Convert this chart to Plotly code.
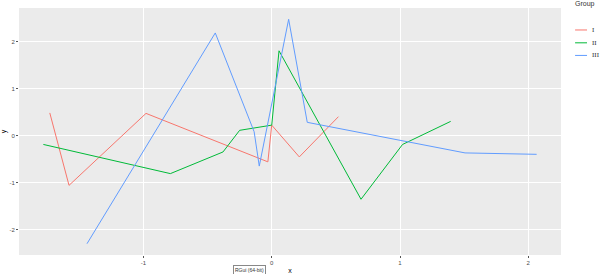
import plotly.graph_objects as go

groups = ["I", "II", "III"]
colors = ["#F8766D", "#00BA38", "#619CFF"]

x_I = [-1.73, -1.58, -0.98, -0.03, 0.0, 0.215, 0.52]
y_I = [0.48, -1.06, 0.47, -0.56, 0.22, -0.455, 0.40]

x_II = [-1.78, -0.79, -0.38, -0.25, 0.0, 0.057, 0.696, 1.02, 1.395]
y_II = [-0.19, -0.81, -0.35, 0.11, 0.22, 1.80, -1.355, -0.19, 0.30]

x_III = [-1.44, -0.44, -0.137, -0.097, 0.132, 0.277, 1.507, 2.065]
y_III = [-2.30, 2.18, 0.08, -0.65, 2.47, 0.28, -0.37, -0.40]

xs = [x_I, x_II, x_III]
ys = [y_I, y_II, y_III]

x_ticks = [-1, 0, 1, 2]
y_ticks = [-2, -1, 0, 1, 2]

fig = go.Figure()
for g, c, xv, yv in zip(groups, colors, xs, ys):
    fig.add_trace(go.Scatter(x=xv, y=yv, mode="lines", name=g,
                             line=dict(color=c, width=1), showlegend=False))

tickfont = dict(family="Liberation Sans", size=6, color="#4D4D4D")
fig.update_layout(
    width=600, height=274,
    margin=dict(l=19, r=39, t=8, b=19),
    paper_bgcolor="white",
    plot_bgcolor="#EBEBEB",
    xaxis=dict(range=[-1.97, 2.255], tickvals=x_ticks, ticktext=[str(v) for v in x_ticks],
               showgrid=True, gridcolor="white", gridwidth=1, zeroline=False,
               automargin=False,
               ticks="outside", ticklen=2, tickcolor="#555", tickfont=tickfont,
               title=dict(text="x", font=dict(family="Liberation Sans", size=7, color="black"),
                          standoff=2)),
    yaxis=dict(range=[-2.54, 2.71], tickvals=y_ticks, ticktext=[str(v) for v in y_ticks],
               showgrid=True, gridcolor="white", gridwidth=1, zeroline=False,
               automargin=False,
               ticks="outside", ticklen=2, tickcolor="#555", tickfont=tickfont,
               title=dict(text="y", font=dict(family="Liberation Sans", size=7, color="black"),
                          standoff=2)),
)

# manual legend (ggplot-like compact spacing)
fig.add_annotation(x=1.022, y=1.016, xref="paper", yref="paper", text="Group",
                   showarrow=False, xanchor="left", yanchor="middle",
                   font=dict(family="Liberation Sans", size=7, color="#333"))
leg_y = [0.911, 0.859, 0.808]
for g, c, ly in zip(groups, colors, leg_y):
    fig.add_shape(type="line", xref="paper", yref="paper", x0=1.026, x1=1.048, y0=ly, y1=ly,
                  line=dict(color=c, width=1))
    fig.add_annotation(x=1.054, y=ly, xref="paper", yref="paper", text=g,
                       showarrow=False, xanchor="left", yanchor="middle",
                       font=dict(family="Liberation Serif", size=7, color="#333"))

# window tooltip artifact present in the reference
fig.add_annotation(x=0.426, y=-0.062, xref="paper", yref="paper", text="RGui (64-bit)",
                   showarrow=False, xanchor="center", yanchor="middle",
                   font=dict(family="Liberation Sans", size=5, color="#333"),
                   bgcolor="white", bordercolor="#888", borderwidth=1, borderpad=1)

fig.write_html("out.html")
